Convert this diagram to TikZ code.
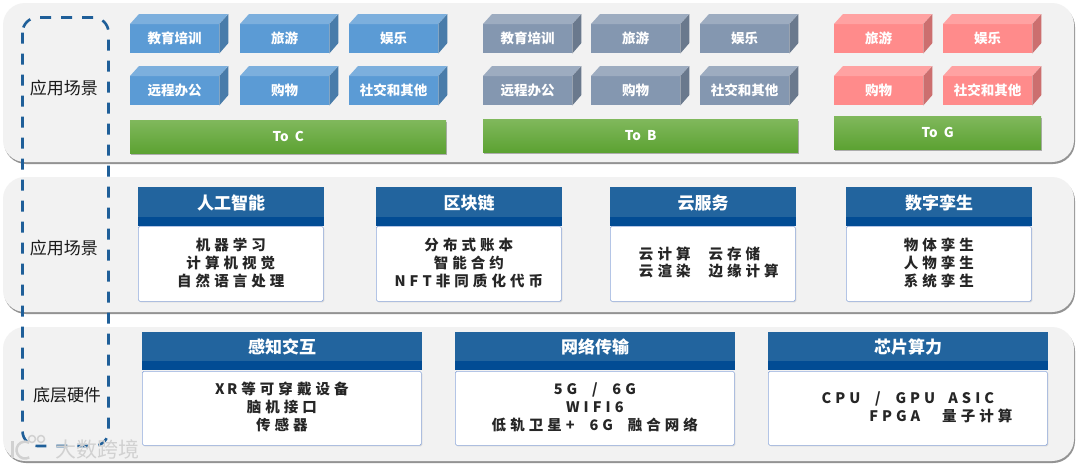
\documentclass[tikz,border=0pt]{standalone}
\usepackage{fontspec}
\setmainfont{Noto Sans CJK SC}
\newfontfamily\cjkwide[LetterSpace=28]{Noto Sans CJK SC}
\usepackage{xcolor}
\usepackage{tikz}
\usetikzlibrary{positioning,shadows,calc}

\definecolor{panelgray}{HTML}{F2F2F2}
\definecolor{dashblue}{HTML}{1F5F99}
\definecolor{headblue}{HTML}{22649E}
\definecolor{bandblue}{HTML}{024C94}
\definecolor{bodyedge}{HTML}{8FAADC}
\definecolor{cubeblue}{HTML}{5B9BD5}
\definecolor{cubeslate}{HTML}{8497B0}
\definecolor{cubered}{HTML}{FF8B8B}
\definecolor{greentop}{HTML}{80B85C}
\definecolor{greenlow}{HTML}{5CA232}

\tikzset{
  panelbox/.style={fill=panelgray, rounded corners=22pt, drop shadow={shadow xshift=1pt, shadow yshift=-2pt, fill=black!60, opacity=0.7}},
  cubefront/.style={anchor=north west, inner sep=0pt, minimum width=89pt, minimum height=29pt, text=white, font=\bfseries\fontsize{13.5}{16}\selectfont},
  greenbar/.style={anchor=north west, inner sep=0pt, minimum height=33pt, text=white, top color=greentop, bottom color=greenlow, drop shadow={shadow xshift=1pt, shadow yshift=-1.5pt, fill=black!50, opacity=0.6}, font=\bfseries\fontsize{13.5}{16}\selectfont},
  cardhead/.style={anchor=north west, inner sep=0pt, fill=headblue, minimum height=31pt, text=white, font=\bfseries\fontsize{17}{20}\selectfont},
  cardband/.style={anchor=north west, inner sep=0pt, fill=bandblue, minimum height=9pt},
  cardbody/.style={anchor=north west, inner sep=0pt, fill=white, draw=bodyedge, line width=0.7pt, rounded corners=1.5pt, align=center, text=black!85, text depth=4pt, minimum height=75pt, font=\cjkwide\bfseries\fontsize{14.5}{18}\selectfont, drop shadow={shadow xshift=1pt, shadow yshift=-1pt, fill=black!25, opacity=0.5}},
  sidelabel/.style={text=black!90, font=\fontsize{17}{20}\selectfont},
  markline/.style={black!18},
}

% front face as a node, top and side faces from its corners
\newcommand{\cubebox}[5]{%
  \node[cubefront, fill=#5] (#1) at (#2,#3) {#4};
  \fill[#5!80!white] (#1.north west) -- ++(9,-10) -- ++(89,0) -- (#1.north east) -- cycle;
  \fill[#5!80!black] (#1.north east) -- ++(9,-10) -- ++(0,29) -- (#1.south east) -- cycle;
}

\begin{document}
\begin{tikzpicture}[x=1pt, y=-1pt]
\useasboundingbox (0,0) rectangle (1080,469);
\fill[white] (0,0) rectangle (1080,469);

% Panels
\fill[panelbox] (3,3) rectangle (1074,162);
\fill[panelbox] (3,177) rectangle (1074,312);
\fill[panelbox] (3,327) rectangle (1074,461);

% Cubes: To C
\foreach \cx/\cy/\cname/\ctext in {130/24/ca/教育培训, 240/24/cb/旅游, 349/24/cc/娱乐,
  130/76/cd/远程办公, 240/76/ce/购物, 349/76/cf/社交和其他} {
  \cubebox{\cname}{\cx}{\cy}{\ctext}{cubeblue}
}

% Cubes: To B
\foreach \cx/\cy/\cname/\ctext in {483/24/ba/教育培训, 591/24/bb/旅游, 700/24/bc/娱乐,
  483/76/bd/远程办公, 591/76/be/购物, 700/76/bf/社交和其他} {
  \cubebox{\cname}{\cx}{\cy}{\ctext}{cubeslate}
}

% Cubes: To G
\foreach \cx/\cy/\cname/\ctext in {834/24/ga/旅游, 943/24/gb/娱乐, 834/76/gd/购物, 943/76/ge/社交和其他} {
  \cubebox{\cname}{\cx}{\cy}{\ctext}{cubered}
}

% Green bars
\node[greenbar, minimum width=316pt] (toc) at (130,120) {To\ \ C};
\node[greenbar, minimum width=315pt] (tob) at (483,119) {To\ \ B};
\node[greenbar, minimum width=207pt] (tog) at (834,116) {To\ \ G};

% Middle cards
\foreach \cx/\cname/\chead/\cbody/\calign in {
  138/ai/人工智能/{机器学习\\计算机视觉\\自然语言处理}/center,
  376/chain/区块链/{分布式账本\\智能合约\\NFT非同质化代币}/center,
  610/cloud/云服务/{\hspace*{12pt}云计算\hspace{18pt}云存储\\[-1pt]\hspace*{12pt}云渲染\hspace{18pt}边缘计算}/left,
  846/twin/数字孪生/{物体孪生\\人物孪生\\系统孪生}/center} {
  \node[cardbody, minimum width=185pt, align=\calign] (\cname body) at (\cx,226) {\cbody};
  \node[cardhead, minimum width=186pt] (\cname head) at (\cx,187) {\chead};
  \node[cardband, minimum width=186pt] (\cname band) at (\cx,217) {};
}

% Bottom cards
\foreach \cx/\cname/\chead/\cbody in {
  142/sense/感知交互/{X\,R等可穿戴设备\\脑机接口\\传感器},
  455/net/网络传输/{5G\ \ /\ \ 6G\\WIFI6\\低轨卫星+\ \ 6G\ \ 融合网络},
  768/chip/芯片算力/{CPU\ \ /\ \ GPU\hspace{13pt}ASIC\\\hspace*{66pt}FPGA\hspace{22pt}量子计算}} {
  \node[cardbody, minimum width=279pt, minimum height=74pt] (\cname body) at (\cx,371) {\cbody};
  \node[cardhead, minimum width=280pt, minimum height=29pt] (\cname head) at (\cx,332) {\chead};
  \node[cardband, minimum width=280pt] (\cname band) at (\cx,361) {};
}

% Dashed frame over the panels
\draw[dashblue, line width=2.6pt, dash pattern=on 11pt off 10pt, rounded corners=15pt] (22.5,17.5) rectangle (108.5,446);

% Side labels
\node[sidelabel] (labtop) at (64,88) {应用场景};
\node[sidelabel] (labmid) at (64,248) {应用场景};
\node[sidelabel] (labbot) at (67,395) {底层硬件};

% Watermark
\draw[markline, line width=2.5pt] (12.5,441) -- (12.5,458);
\draw[markline, line width=2.5pt] (29.25,457.4) arc (60:300:8.5);
\draw[markline, line width=1.5pt] (32,439) circle (3.5);
\draw[markline, line width=1.5pt] (41,439) circle (3.5);
\node[black!18, font=\fontsize{21}{24}\selectfont] (mark) at (98,449) {大数跨境};

\end{tikzpicture}
\end{document}
